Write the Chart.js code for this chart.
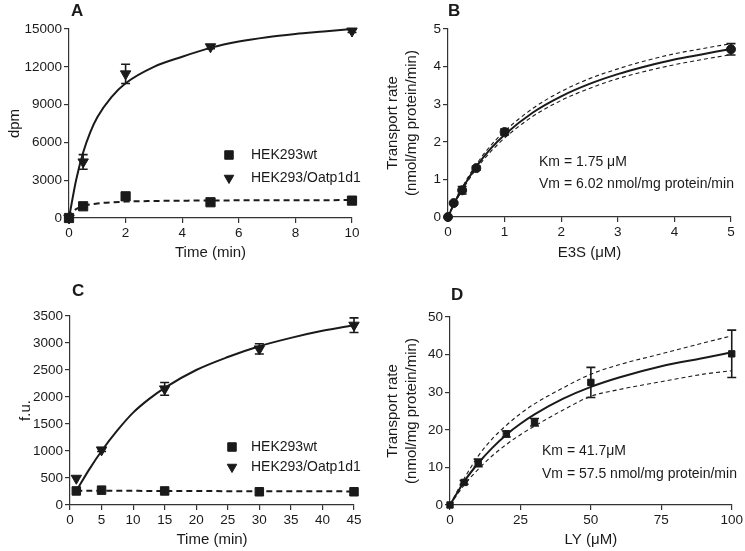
<!DOCTYPE html>
<html>
<head>
<meta charset="utf-8">
<script src="https://cdn.jsdelivr.net/npm/chart.js@4.4.0/dist/chart.umd.min.js"></script>
<style>
  body { margin: 0; background: #fff; }
  #wrap { position: relative; width: 745px; height: 551px; }
  canvas { position: absolute; }
</style>
</head>
<body>
<div id="wrap">
  <canvas id="chartA" width="372" height="275" style="left:0;top:0"></canvas>
  <canvas id="chartB" width="373" height="275" style="left:372px;top:0"></canvas>
  <canvas id="chartC" width="372" height="276" style="left:0;top:275px"></canvas>
  <canvas id="chartD" width="373" height="276" style="left:372px;top:275px"></canvas>
</div>
<script>
const FONT = '"Liberation Sans", Arial, Helvetica, sans-serif';
const INK = '#1a1a1a';
const AXIS = '#333333';

// A: uptake time course (dpm)
const aTime = [0, 0.5, 2, 5, 10];
const aWt = [0, 930, 1720, 1250, 1380];
const aWtErr = [0, 60, 90, 60, 60];
const aOatp = [0, 4450, 11440, 13590, 14840];
const aOatpErr = [0, 580, 760, 150, 120];
const aFitX = [0, 0.25, 0.5, 0.75, 1, 1.5, 2, 3, 4, 5, 6, 7, 8, 9, 10];
const aOatpFit = [0, 3000, 5200, 6800, 8000, 9600, 10700, 12000, 12800, 13500, 14000, 14350, 14600, 14800, 15000];
const aWtFitX = [0, 0.1, 0.25, 0.5, 1, 2, 3, 5, 7, 10];
const aWtFit = [0, 400, 700, 950, 1150, 1300, 1350, 1390, 1410, 1420];
const aXTicks = [0, 2, 4, 6, 8, 10];
const aYTicks = [0, 3000, 6000, 9000, 12000, 15000];

// B: E3S kinetics
const bConc = [0, 0.1, 0.25, 0.5, 1, 5];
const bRate = [0, 0.37, 0.71, 1.3, 2.26, 4.46];
const bErr = [0, 0.03, 0.1, 0.05, 0.08, 0.15];
const bFitX = [0, 0.1, 0.25, 0.5, 0.75, 1, 1.5, 2, 2.5, 3, 3.5, 4, 4.5, 5];
const bFit = [0, 0.33, 0.75, 1.34, 1.81, 2.19, 2.78, 3.21, 3.54, 3.80, 4.01, 4.19, 4.33, 4.47];
const bUpper = [0, 0.35, 0.79, 1.40, 1.89, 2.28, 2.89, 3.34, 3.68, 3.94, 4.16, 4.34, 4.48, 4.61];
const bLower = [0, 0.31, 0.71, 1.28, 1.73, 2.10, 2.68, 3.10, 3.42, 3.68, 3.88, 4.05, 4.19, 4.32];
const bXTicks = [0, 1, 2, 3, 4, 5];
const bYTicks = [0, 1, 2, 3, 4, 5];

// C: LY time course (f.u.)
const cTime = [1, 5, 15, 30, 45];
const cWt = [260, 275, 260, 245, 245];
const cOatp = [495, 1020, 2150, 2890, 3330];
const cOatpErr = [0, 30, 118, 95, 135];
const cFitX = [1, 3, 5, 7.5, 10, 12.5, 15, 20, 25, 30, 35, 40, 45];
const cOatpFit = [260, 650, 1000, 1380, 1710, 1960, 2170, 2500, 2740, 2940, 3095, 3225, 3330];
const cWtFitX = [1, 5, 15, 30, 45];
const cWtFit = [265, 264, 260, 255, 252];
const cXTicks = [0, 5, 10, 15, 20, 25, 30, 35, 40, 45];
const cYTicks = [0, 500, 1000, 1500, 2000, 2500, 3000, 3500];

// D: LY kinetics
const dConc = [0, 5, 10, 20, 30, 50, 100];
const dRate = [0, 6.0, 11.2, 18.9, 22.0, 32.6, 40.2];
const dErr = [0, 0.5, 1.0, 0.8, 1.0, 4.0, 6.3];
const dFitX = [0, 5, 10, 15, 20, 25, 30, 40, 50, 60, 75, 90, 100];
const dFit = [0, 6.2, 11.1, 15.2, 18.7, 21.6, 24.1, 28.2, 31.4, 33.9, 36.9, 39.1, 40.6];
const dUpper = [0, 7.0, 13.0, 17.6, 21.2, 24.3, 26.9, 31.1, 34.8, 37.3, 40.2, 43.1, 45.0];
const dLower = [0, 5.3, 9.5, 13.1, 16.1, 18.7, 21.0, 25.2, 28.9, 30.7, 32.8, 34.8, 35.7];
const dXTicks = [0, 25, 50, 75, 100];
const dYTicks = [0, 10, 20, 30, 40, 50];

function toPoints(xs, ys) {
  return xs.map((x, i) => ({ x: x, y: ys[i] }));
}

// vertical error bars with caps, from dataset.errors
const errorBars = {
  id: 'errorBars',
  afterDatasetsDraw(chart) {
    const ctx = chart.ctx;
    const xs = chart.scales.x;
    const ys = chart.scales.y;
    ctx.save();
    ctx.strokeStyle = INK;
    ctx.lineWidth = 1.6;
    chart.data.datasets.forEach((ds) => {
      if (!ds.errors) return;
      ds.data.forEach((p, i) => {
        const e = ds.errors[i];
        if (!e) return;
        const px = xs.getPixelForValue(p.x);
        const top = ys.getPixelForValue(p.y + e);
        const bot = ys.getPixelForValue(p.y - e);
        ctx.beginPath();
        ctx.moveTo(px, top);
        ctx.lineTo(px, bot);
        ctx.moveTo(px - 4.5, top);
        ctx.lineTo(px + 4.5, top);
        ctx.moveTo(px - 4.5, bot);
        ctx.lineTo(px + 4.5, bot);
        ctx.stroke();
      });
    });
    ctx.restore();
  },
};

// panel letter, legend rows and Km/Vm notes
const panelText = {
  id: 'panelText',
  afterDraw(chart, args, opts) {
    const ctx = chart.ctx;
    ctx.save();
    ctx.fillStyle = INK;
    ctx.strokeStyle = INK;
    ctx.textBaseline = 'middle';
    ctx.textAlign = 'left';
    (opts.items || []).forEach((it) => {
      if (it.marker) {
        Chart.helpers.drawPoint(ctx, {
          pointStyle: it.marker,
          radius: it.radius,
          rotation: it.rotation || 0,
          borderWidth: 1,
        }, it.mx, it.y);
      }
      ctx.font = it.font || '14px ' + FONT;
      ctx.fillText(it.text, it.x, it.y);
    });
    ctx.restore();
  },
};

function markerSet(label, xs, ys, errs, style, radius, rotation) {
  return {
    label: label,
    data: toPoints(xs, ys),
    errors: errs,
    pointStyle: style,
    pointRadius: radius,
    pointRotation: rotation || 0,
    pointBackgroundColor: INK,
    pointBorderColor: INK,
    pointBorderWidth: 1,
    showLine: false,
    clip: false,
  };
}

function lineSet(xs, ys, width, dash) {
  return {
    data: toPoints(xs, ys),
    showLine: true,
    borderColor: INK,
    borderWidth: width,
    borderDash: dash || [],
    pointRadius: 0,
    cubicInterpolationMode: 'monotone',
    clip: false,
  };
}

function axis(min, max, ticks, title, size, titlePad) {
  return {
    type: 'linear',
    min: min,
    max: max,
    afterBuildTicks: (scale) => {
      scale.ticks = ticks.map((v) => ({ value: v }));
    },
    afterFit: (scale) => {
      if (scale.isHorizontal()) scale.height = size;
      else scale.width = size;
    },
    border: { display: true, color: AXIS, width: 1.2 },
    grid: { drawOnChartArea: false, drawTicks: true, tickLength: 5, color: AXIS, lineWidth: 1.2 },
    ticks: {
      color: INK,
      font: { family: FONT, size: 13.5 },
      padding: 2,
      callback: (v) => String(v),
    },
    title: {
      display: true,
      text: title,
      color: INK,
      font: { family: FONT, size: 15, lineHeight: 1.27 },
      padding: titlePad,
    },
  };
}

function createPanel(canvasId, panel) {
  const canvas = document.getElementById(canvasId);
  const W = canvas.width;
  const H = canvas.height;
  const a = panel.area;
  new Chart(canvas, {
    type: 'scatter',
    data: { datasets: panel.datasets },
    options: {
      responsive: false,
      animation: false,
      events: [],
      layout: { padding: { left: 0, top: a.top, right: W - a.right, bottom: 0 } },
      scales: {
        x: axis(panel.x.min, panel.x.max, panel.x.ticks, panel.x.title, H - a.bottom, { top: 0, bottom: panel.x.pad }),
        y: axis(panel.y.min, panel.y.max, panel.y.ticks, panel.y.title, a.left, { top: panel.y.pad, bottom: 0 }),
      },
      plugins: {
        legend: { display: false },
        tooltip: { enabled: false },
        panelText: { items: panel.texts },
      },
    },
    plugins: [errorBars, panelText],
  });
}

const BOLD = 'bold 17px ' + FONT;

createPanel('chartA', {
  area: { left: 69, top: 29, right: 352, bottom: 218 },
  x: { min: 0, max: 10, ticks: aXTicks, title: 'Time (min)', pad: 13 },
  y: { min: 0, max: 15000, ticks: aYTicks, title: 'dpm', pad: 5 },
  datasets: [
    markerSet('HEK293wt', aTime, aWt, aWtErr, 'rect', 6.5),
    markerSet('HEK293/Oatp1d1', aTime, aOatp, aOatpErr, 'triangle', 6, 180),
    lineSet(aFitX, aOatpFit, 2),
    lineSet(aWtFitX, aWtFit, 2, [6, 4]),
  ],
  texts: [
    { text: 'A', x: 71, y: 11, font: BOLD },
    { text: 'HEK293wt', x: 251, y: 155, marker: 'rect', radius: 6, mx: 229 },
    { text: 'HEK293/Oatp1d1', x: 251, y: 178, marker: 'triangle', radius: 5.5, rotation: 180, mx: 229 },
  ],
});

createPanel('chartB', {
  area: { left: 76, top: 29, right: 359, bottom: 217 },
  x: { min: 0, max: 5, ticks: bXTicks, title: 'E3S (\u03bcM)', pad: 13 },
  y: { min: 0, max: 5, ticks: bYTicks, title: ['Transport rate', '(nmol/mg protein/min)'], pad: 11 },
  datasets: [
    markerSet('E3S', bConc, bRate, bErr, 'circle', 4.5),
    lineSet(bFitX, bFit, 2),
    lineSet(bFitX, bUpper, 1.1, [4, 3]),
    lineSet(bFitX, bLower, 1.1, [4, 3]),
  ],
  texts: [
    { text: 'B', x: 76, y: 11, font: BOLD },
    { text: 'Km = 1.75 \u03bcM', x: 167, y: 162 },
    { text: 'Vm = 6.02 nmol/mg protein/min', x: 167, y: 184 },
  ],
});

createPanel('chartC', {
  area: { left: 70, top: 41, right: 354, bottom: 230 },
  x: { min: 0, max: 45, ticks: cXTicks, title: 'Time (min)', pad: 2 },
  y: { min: 0, max: 3500, ticks: cYTicks, title: 'f.u.', pad: 16 },
  datasets: [
    markerSet('HEK293wt', cTime, cWt, null, 'rect', 6),
    markerSet('HEK293/Oatp1d1', cTime, cOatp, cOatpErr, 'triangle', 6, 180),
    lineSet(cFitX, cOatpFit, 2),
    lineSet(cWtFitX, cWtFit, 2, [6, 4]),
  ],
  texts: [
    { text: 'C', x: 72, y: 16, font: BOLD },
    { text: 'HEK293wt', x: 251, y: 172, marker: 'rect', radius: 6, mx: 232 },
    { text: 'HEK293/Oatp1d1', x: 251, y: 192, marker: 'triangle', radius: 5.5, rotation: 180, mx: 232 },
  ],
});

createPanel('chartD', {
  area: { left: 78, top: 42, right: 361, bottom: 230 },
  x: { min: 0, max: 100, ticks: dXTicks, title: 'LY (\u03bcM)', pad: 2 },
  y: { min: 0, max: 50, ticks: dYTicks, title: ['Transport rate', '(nmol/mg protein/min)'], pad: 11 },
  datasets: [
    markerSet('LY', dConc, dRate, dErr, 'rect', 4.5),
    lineSet(dFitX, dFit, 2),
    lineSet(dFitX, dUpper, 1.1, [4, 3]),
    lineSet(dFitX, dLower, 1.1, [4, 3]),
  ],
  texts: [
    { text: 'D', x: 79, y: 20, font: BOLD },
    { text: 'Km = 41.7\u03bcM', x: 170, y: 176 },
    { text: 'Vm = 57.5 nmol/mg protein/min', x: 170, y: 199 },
  ],
});
</script>
</body>
</html>
